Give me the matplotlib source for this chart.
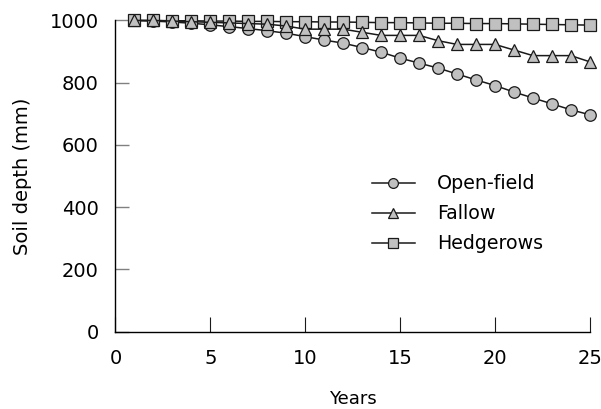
import numpy as np
import matplotlib.pyplot as plt

plt.rcParams['font.family'] = ['DejaVu Sans']

# data
years = np.arange(1, 26)
open_field = [1000, 998, 995, 991, 986, 980, 974, 967, 959, 948, 937, 927, 913,
              898, 879, 863, 847, 828, 809, 791, 770, 751, 732, 713, 697]
fallow = [1000, 1000, 998, 996, 994, 992, 990, 988, 982, 972, 972, 972, 962,
          952, 952, 952, 935, 923, 923, 923, 905, 887, 887, 887, 867]
hedgerows = [1000, 1000, 999, 999, 998, 998, 997, 997, 996, 996, 995, 995, 994,
             993, 993, 992, 991, 991, 990, 990, 989, 988, 987, 986, 985]

series = [
    ("Open-field", open_field, "o", 8.3, 2),
    ("Fallow", fallow, "^", 9.0, 4),
    ("Hedgerows", hedgerows, "s", 8.2, 3),
]

fig = plt.figure(figsize=(6.01, 4.09), dpi=100)
ax = fig.add_axes([0.192, 0.189, 0.7895, 0.761])

for label, vals, marker, ms, z in series:
    ax.plot(years, vals, color="#1a1a1a", linewidth=1.1, marker=marker,
            markersize=ms, markerfacecolor="#c0c0c0", markeredgecolor="#1a1a1a",
            markeredgewidth=0.9, label=label, zorder=z, clip_on=False)

ax.set_xlim(0, 25)
ax.set_ylim(0, 1000)
ax.set_xticks([0, 5, 10, 15, 20, 25])
ax.set_yticks([0, 200, 400, 600, 800, 1000])

for side in ["top", "right"]:
    ax.spines[side].set_visible(False)
ax.spines["left"].set_linewidth(1.0)
ax.spines["bottom"].set_linewidth(1.0)

ax.tick_params(axis="x", direction="in", length=11, width=0.8, color="#1a1a1a",
               labelsize=14, pad=12.5)
ax.tick_params(axis="y", direction="in", length=10, width=1.0, color="#808080",
               labelsize=14, pad=12)

ax.set_xlabel("Years", fontsize=13, labelpad=16)
ax.set_ylabel("Soil depth (mm)", fontsize=14, labelpad=13)

ax.legend(loc="upper left", bbox_to_anchor=(0.6185, 0.574),
          bbox_transform=fig.transFigure, frameon=False,
          fontsize=13.7, handlelength=2.26, handletextpad=1.16, labelspacing=0.58,
          markerscale=0.85, borderpad=0, borderaxespad=0)

fig.savefig("out.png", dpi=100)
